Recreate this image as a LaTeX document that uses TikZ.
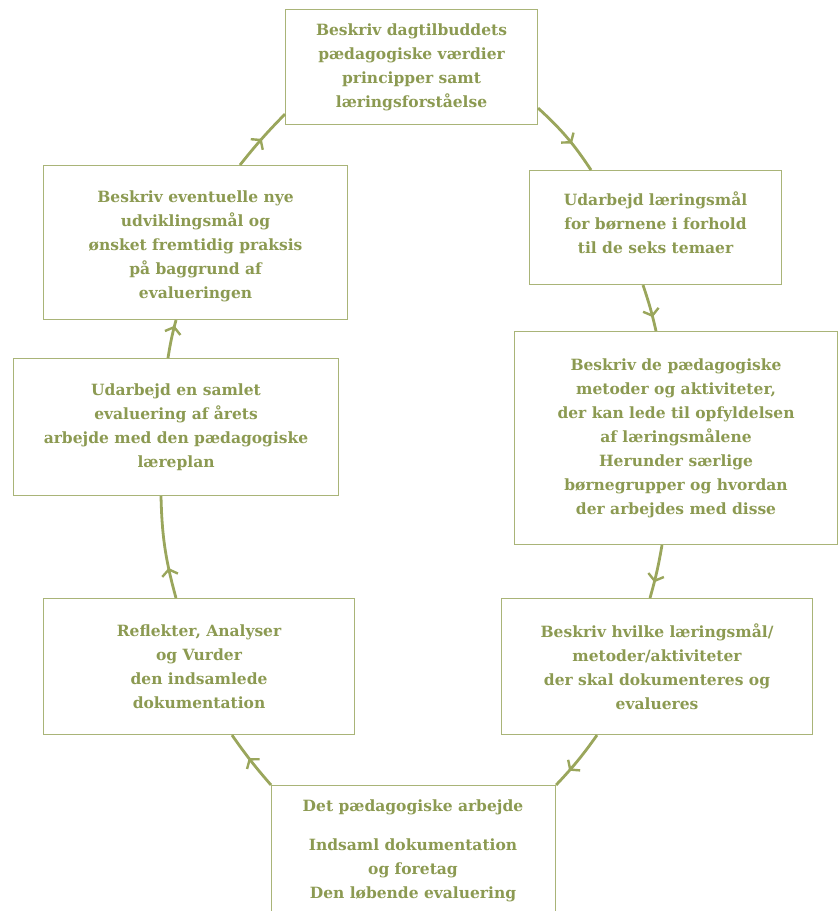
\documentclass[tikz,border=0pt]{standalone}
\usepackage{fontspec}
\setmainfont{DejaVu Serif}
\usetikzlibrary{arrows.meta,decorations.markings,calc}
\definecolor{txt}{HTML}{8C9A52}
\definecolor{ln}{HTML}{9AA65C}
\definecolor{bx}{HTML}{A9B478}
\begin{document}
\begin{tikzpicture}[x=1pt,y=-1pt,
  box/.style={draw=bx,line width=1.1pt,text=txt,align=center,anchor=north west,
    font=\bfseries\fontsize{15.5}{24}\selectfont,inner sep=0pt},
  conn/.style={draw=ln,line width=2.8pt,postaction={decorate},
    decoration={markings,mark=at position #1 with {\arrow[ln,line width=2.4pt]{Straight Barb[length=6pt,width=16pt]}}}},
  conn/.default=0.6]
\useasboundingbox (0,0) rectangle (838,911);
\clip (0,0) rectangle (838,911);
\node[box,minimum width=252pt,minimum height=115pt] (top) at (285,9)
  {Beskriv dagtilbuddets\\pædagogiske værdier\\principper samt\\læringsforståelse};
\node[box,minimum width=252pt,minimum height=114pt] (right1) at (529,170)
  {Udarbejd læringsmål\\for børnene i forhold\\til de seks temaer\\[-14pt]\mbox{}};
\node[box,minimum width=323pt,minimum height=213pt] (right2) at (514,331)
  {Beskriv de pædagogiske\\metoder og aktiviteter,\\der kan lede til opfyldelsen\\af læringsmålene\\Herunder særlige\\børnegrupper og hvordan\\der arbejdes med disse};
\node[box,minimum width=311pt,minimum height=136pt] (right3) at (501,598)
  {Beskriv hvilke læringsmål/\\metoder/aktiviteter\\der skal dokumenteres og\\evalueres};
\node[box,minimum width=284pt,minimum height=160pt] (bottom) at (271,785) {};
\node[text=txt,align=center,font=\bfseries\fontsize{15.5}{24}\selectfont,anchor=north] (bottomtxt) at (413,796)
  {Det pædagogiske arbejde\\[15pt]Indsaml dokumentation\\og foretag\\Den løbende evaluering};
\node[box,minimum width=311pt,minimum height=136pt] (left3) at (43,598)
  {Reflekter, Analyser\\og Vurder\\den indsamlede\\dokumentation};
\node[box,minimum width=325pt,minimum height=137pt] (left2) at (13,358)
  {Udarbejd en samlet\\evaluering af årets\\arbejde med den pædagogiske\\læreplan};
\node[box,minimum width=304pt,minimum height=154pt] (left1) at (43,165)
  {\mbox{}\\[-4pt]Beskriv eventuelle nye\\udviklingsmål og\\ønsket fremtidig praksis\\på baggrund af\\evalueringen};
\path[conn=0.5] ([xshift=197pt]left1.north west) to[bend left=3] ([yshift=11pt]top.south west);
\path[conn=0.6] ([yshift=17pt]top.south east) to[bend left=7] ([xshift=62pt]right1.north west);
\path[conn=0.7] ([xshift=114pt]right1.south west) to[bend left=3] ([xshift=142pt]right2.north west);
\path[conn=0.7] ([xshift=148pt]right2.south west) to[bend left=3] ([xshift=149pt]right3.north west);
\path[conn=0.7] ([xshift=96pt]right3.south west) to[bend left=4] (bottom.north east);
\path[conn=0.55] (bottom.north west) to[bend left=3] ([xshift=189pt]left3.south west);
\path[conn=0.3] ([xshift=133pt]left3.north west) to[bend left=7] ([xshift=148pt]left2.south west);
\path[conn=0.85] ([xshift=155pt]left2.north west) to[bend left=3] ([xshift=133pt]left1.south west);
\end{tikzpicture}
\end{document}
